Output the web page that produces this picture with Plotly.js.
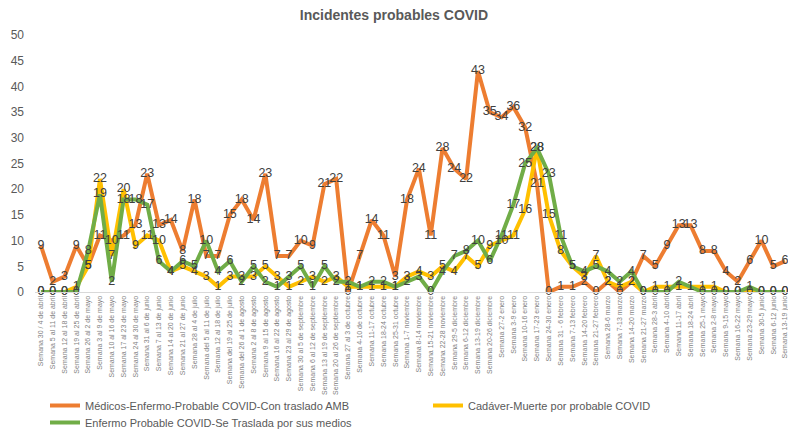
<!DOCTYPE html>
<html><head><meta charset="utf-8">
<script src="https://cdn.plot.ly/plotly-3.0.1.min.js"></script>
<style>html,body{margin:0;padding:0;background:#fff}#c{width:788px;height:429px}</style>
</head><body><div id="c"></div>
<script>
const weeks = ["Semana 30 / 4 de abril","Semana 5 al 11 de abril","Semana 12 al 18 de abril","Semana 19 al 25 de abril","Semana 26 al 2 de mayo","Semana 3 al 9 de mayo","Semana 10 al 16 de mayo","Semana 17 al 23 de mayo","Semana 24 al 30 de mayo","Semana 31 al 6 de junio","Semana 7 al 13 de junio","Semana 14 al 20 de junio","Semana 21 al 27 de junio","Semana 28 al 4 de julio","Semana del 5 al 11 de julio","Semana 12 al 18 de julio","Semana del 19 al 25 de julio","Semana del 26 al 1 de agosto","Semana 2 al 8 de agosto","Semana 9 al 15 de agosto","Semana 16 al 22 de agosto","Semana 23 al 29 de agosto","Semana 30 al 5 de septiembre","Semana 6 al 12 de septiembre","Semana 13 al 19 de septiembre","Semana 20 al 26 de septiembre","Semana 27 al 3 de octubre","Semana 4-10 de octubre","Semana 11-17 octubre","Semana 18-24 octubre","Semana 25-31 octubre","Semana 1-7 noviembre","Semana 8-14 noviembre","Semana 15-21 noviembre","Semana 22-28 noviembre","Semana 29-5 diciembre","Semana 6-12 diciembre","Semana 13-19 diciembre","Semana 20-26 diciembre","Semana 27-2 enero","Semana 3-9 enero","Semana 10-16 enero","Semana 17-23 enero","Semana 24-30 enero","Semana 31 - 6 febrero","Semana 7-13 febrero","Semana 14-20 febrero","Semana 21-27 febrero","Semana 28-6 marzo","Semana 7-13 marzo","Semana 14-20 marzo","Semana 21-27 marzo","Semana 28-3 abril","Semana 4-10 abril","Semana 11-17 abril","Semana 18-24 abril","Semana 25-1 mayo","Semana 2-8 mayo","Semana 9-15 mayo","Semana 16-22 mayo","Semana 23-29 mayo","Semana 30-5 junio","Semana 6-12 junio","Semana 13-19 junio"];

const medicos = [9,2,3,9,5,11,10,11,13,23, 13,14,8,18,7,7,15,18,14,23, 7,7,10,9,21,22,0,7,14,11, 3,18,24,11,28,24,22,43,35,34, 36,32,21,0,1,1,2,0,2,0, 2,7,5,9,13,13,8,8,4,2, 6,10,5,6];
const cadaver = [0,0,0,1,5,22,7,20,9,11, 10,4,5,4,3,1,3,3,3,5, 3,1,2,3,2,3,1,1,1,1, 1,3,4,3,5,4,7,5,9,10, 11,16,28,15,8,5,3,7,2,1, 2,0,1,1,1,1,1,1,0,0, 0,0,0,0];
const enfermo = [0,0,0,0,8,19,2,18,18,17, 6,4,6,5,10,4,6,2,5,2, 1,3,5,1,5,2,2,1,2,2, 1,2,3,0,4,7,8,10,6,11, 17,25,28,23,11,5,4,5,4,2, 4,0,0,0,2,1,0,0,0,0, 1,0,0,0];

const names = ["Médicos-Enfermo-Probable COVID-Con traslado AMB","Cadáver-Muerte por probable COVID","Enfermo Probable COVID-Se Traslada por sus medios"];
const colors = ["#ED7D31","#FFC000","#70AD47"];
const legendIds = ["legend","legend2","legend3"];
const series = [medicos, cadaver, enfermo];

const traces = [];
series.forEach((s,i)=>{
  traces.push({type:'scatter', mode:'lines', x:weeks, y:s, name:names[i], legend:legendIds[i],
    line:{color:colors[i], width:4, shape:'linear'}, hoverinfo:'skip', cliponaxis:false});
});
series.forEach((s,i)=>{
  traces.push({type:'scatter', mode:'text', x:weeks, y:s, text:s.map(String), showlegend:false,
    textposition:'middle center', textfont:{family:'Liberation Sans Narrow, Arial Narrow, sans-serif', size:12.5, color:'#404040'},
    hoverinfo:'skip', cliponaxis:false});
});

const legFont = {family:'Liberation Sans Narrow, Arial Narrow, sans-serif', size:11, color:'#595959'};
const legBase = {orientation:'v', xref:'container', yref:'container', xanchor:'left', yanchor:'top',
  font:legFont, itemwidth:30, bgcolor:'rgba(0,0,0,0)'};
const layout = {
  width:788, height:429,
  margin:{l:35, r:0, t:35, b:137, autoexpand:false},
  paper_bgcolor:'#fff', plot_bgcolor:'#fff',
  title:{text:'<b>Incidentes probables COVID</b>', x:0.5, xref:'container', y:0.965, yref:'container', yanchor:'middle',
    font:{family:'Liberation Sans, Arial, sans-serif', size:14, color:'#595959'}},
  xaxis:{type:'category', range:[-0.5, 63.25], showgrid:false, zeroline:false,
    showline:true, linecolor:'#d9d9d9', linewidth:1, ticks:'', tickangle:-90,
    tickfont:{family:'Liberation Sans, Arial, sans-serif', size:7, color:'#7f7f7f'},
    automargin:false, fixedrange:true},
  yaxis:{range:[0,50], dtick:5, showgrid:false, zeroline:false, showline:false, ticks:'',
    ticklabelstandoff:10,
    tickfont:{family:'Liberation Sans, Arial, sans-serif', size:12, color:'#595959'},
    automargin:false, fixedrange:true},
  showlegend:true,
  legend:Object.assign({}, legBase, {x:45/788, y:1-391/429}),
  legend2:Object.assign({}, legBase, {x:428/788, y:1-391/429}),
  legend3:Object.assign({}, legBase, {x:45/788, y:1-408/429})
};

Plotly.newPlot('c', traces, layout, {staticPlot:true, displayModeBar:false});
</script></body></html>
